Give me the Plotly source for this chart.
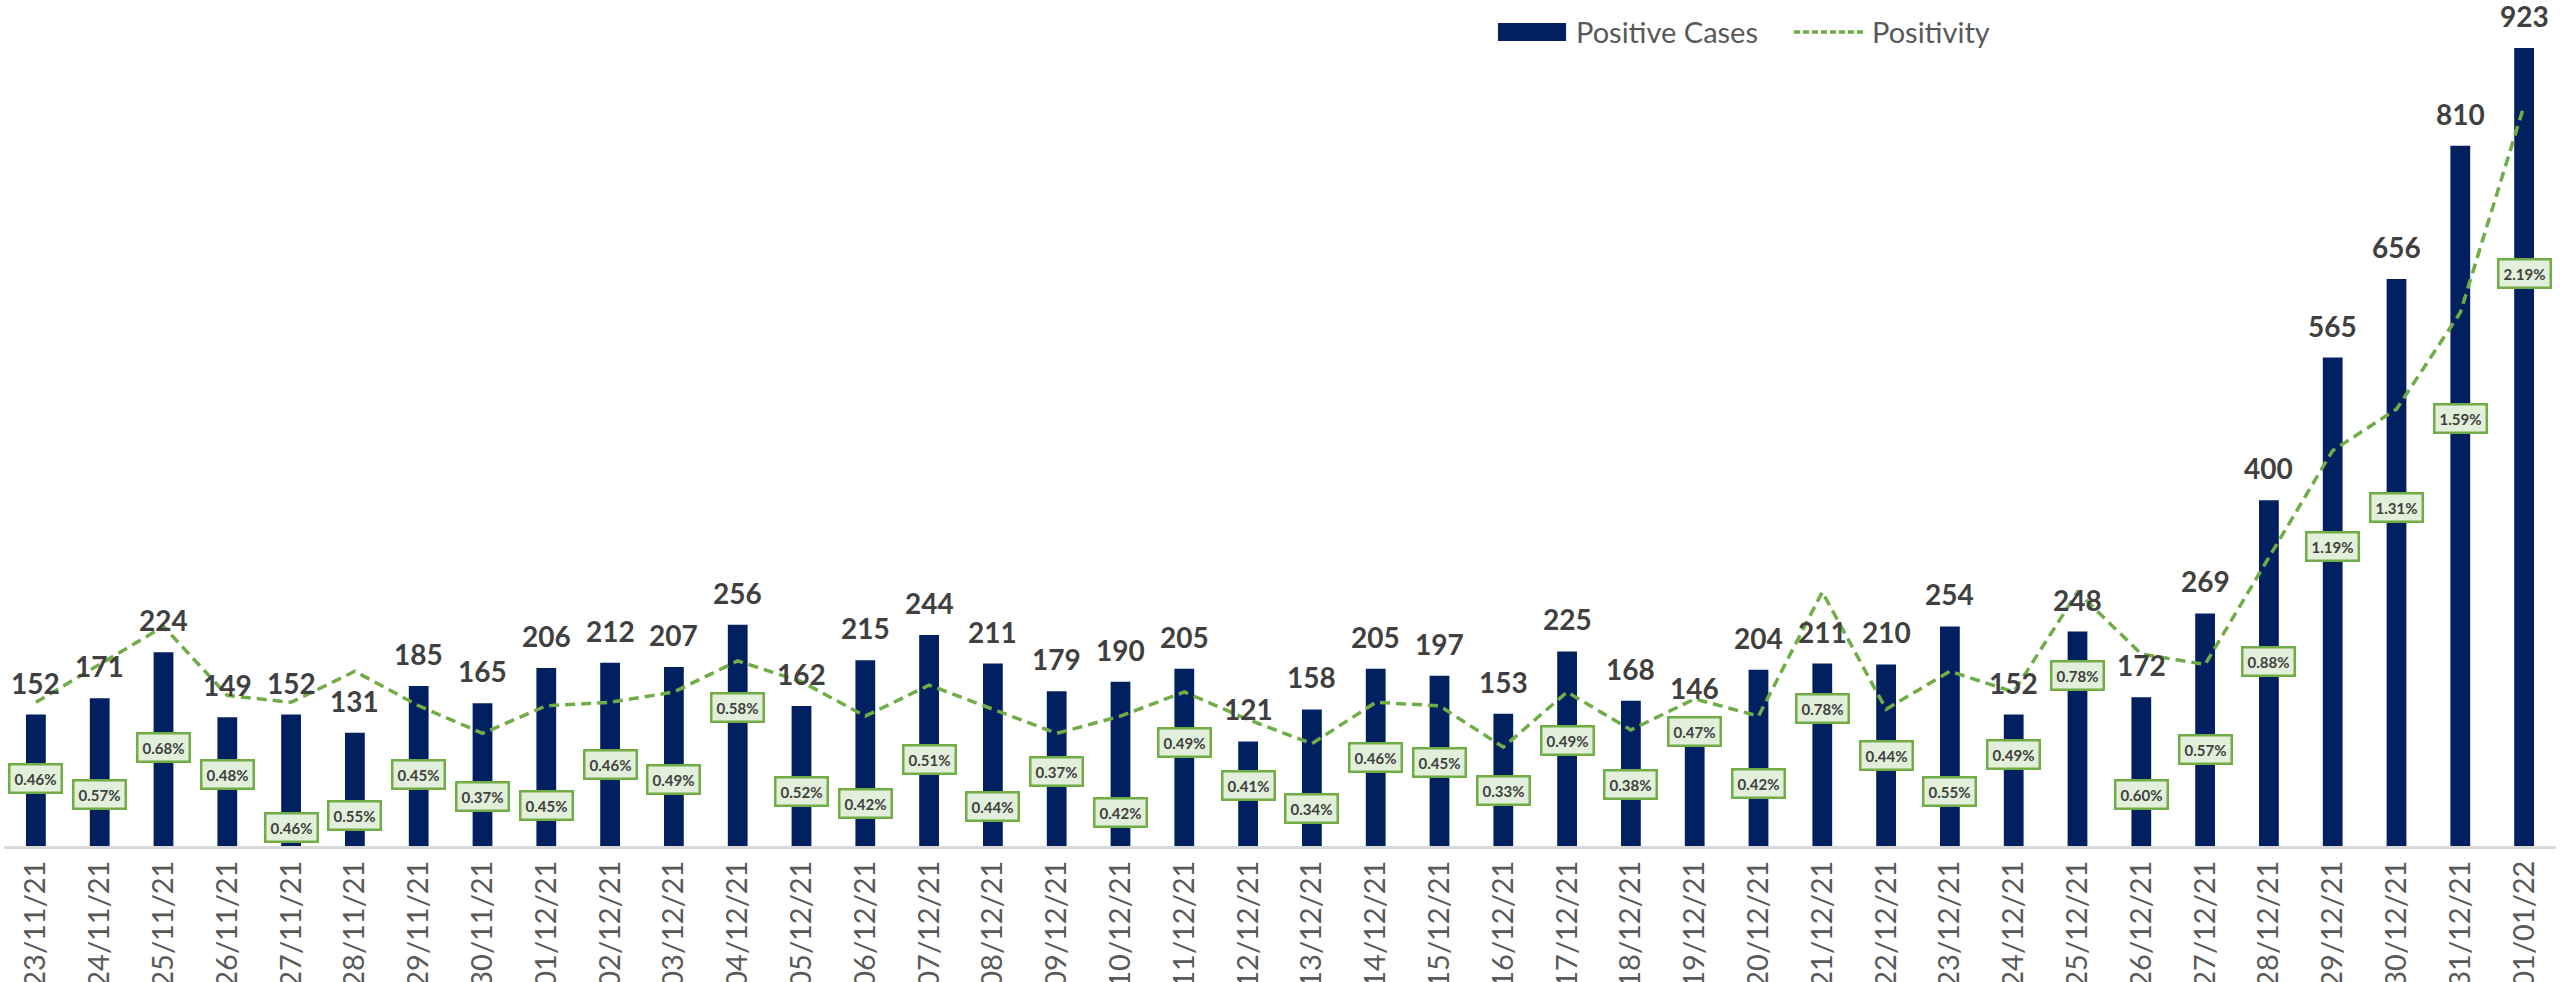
import plotly.graph_objects as go

# ---------------- data ----------------
dates = ["23/11/21", "24/11/21", "25/11/21", "26/11/21", "27/11/21", "28/11/21",
         "29/11/21", "30/11/21", "01/12/21", "02/12/21", "03/12/21", "04/12/21",
         "05/12/21", "06/12/21", "07/12/21", "08/12/21", "09/12/21", "10/12/21",
         "11/12/21", "12/12/21", "13/12/21", "14/12/21", "15/12/21", "16/12/21",
         "17/12/21", "18/12/21", "19/12/21", "20/12/21", "21/12/21", "22/12/21",
         "23/12/21", "24/12/21", "25/12/21", "26/12/21", "27/12/21", "28/12/21",
         "29/12/21", "30/12/21", "31/12/21", "01/01/22"]

positive_cases = [152, 171, 224, 149, 152, 131, 185, 165, 206, 212, 207, 256,
                  162, 215, 244, 211, 179, 190, 205, 121, 158, 205, 197, 153,
                  225, 168, 146, 204, 211, 210, 254, 152, 248, 172, 269, 400,
                  565, 656, 810, 923]

positivity = [0.0046, 0.0057, 0.0068, 0.0048, 0.0046, 0.0055, 0.0045, 0.0037,
              0.0045, 0.0046, 0.0049, 0.0058, 0.0052, 0.0042, 0.0051, 0.0044,
              0.0037, 0.0042, 0.0049, 0.0041, 0.0034, 0.0046, 0.0045, 0.0033,
              0.0049, 0.0038, 0.0047, 0.0042, 0.0078, 0.0044, 0.0055, 0.0049,
              0.0078, 0.0060, 0.0057, 0.0088, 0.0119, 0.0131, 0.0159, 0.0219]

series_names = ["Positive Cases", "Positivity"]

# label placement (pixels below the line point) - style, not data
label_drop_px = [76, 130, 121, 79, 125, 144, 69, 63, 100, 62, 88, 47, 110, 87,
                 74, 97, 38, 96, 51, 66, 65, 55, 57, 43, 49, 55, 33, 67, 117, 46,
                 120, 63, 84, 140, 85, 104, 96, 98, 106, 168]

# ---------------- styles ----------------
NAVY = "#002060"
GREEN = "#70AD47"
LABEL_FILL = "#E2EFDA"
DARK = "#404040"
GREY = "#595959"
FONT = "Lato, Open Sans, sans-serif"

fig = go.Figure()

fig.add_trace(go.Bar(
    x=dates, y=positive_cases, name=series_names[0],
    marker=dict(color=NAVY, line=dict(width=0)),
    width=0.31, yaxis="y", showlegend=False,
))

fig.add_trace(go.Scatter(
    x=dates, y=positivity, name=series_names[1], mode="lines",
    line=dict(color=GREEN, width=3.5, dash="10px,6px"),
    yaxis="y2", showlegend=False,
))

annotations = []
for d, v in zip(dates, positive_cases):
    annotations.append(dict(
        x=d, y=v, xref="x", yref="y", text=str(v), showarrow=False,
        yanchor="bottom", yshift=13,
        font=dict(family=FONT, size=28, color=DARK, weight="bold"),
    ))
for d, p, drop in zip(dates, positivity, label_drop_px):
    annotations.append(dict(
        x=d, y=p, xref="x", yref="y2", text=f"{p:.2%}", showarrow=False,
        yanchor="middle", yshift=-drop,
        bgcolor=LABEL_FILL, bordercolor=GREEN, borderwidth=2.5, borderpad=4,
        font=dict(family=FONT, size=15, color=DARK, weight="bold"),
    ))

# ---- legend (drawn as swatches + text, top centre-right) ----
legend_font = dict(family=FONT, size=29, color=GREY)
annotations.append(dict(
    x=0.6152, y=0.9628, xref="paper", yref="paper", text=series_names[0],
    showarrow=False, xanchor="left", yanchor="middle", font=legend_font,
))
annotations.append(dict(
    x=0.7312, y=0.9628, xref="paper", yref="paper", text=series_names[1],
    showarrow=False, xanchor="left", yanchor="middle", font=legend_font,
))
shapes = [
    dict(type="rect", xref="paper", yref="paper",
         x0=0.5854, x1=0.6121, y0=0.9515, y1=0.9728,
         fillcolor=NAVY, line=dict(width=0)),
    dict(type="line", xref="paper", yref="paper",
         x0=0.7014, x1=0.7288, y0=0.9622, y1=0.9622,
         line=dict(color=GREEN, width=3.5, dash="6px,3px")),
]

fig.update_layout(
    width=2560, height=982,
    margin=dict(l=4, r=4, t=0, b=136, autoexpand=False),
    plot_bgcolor="white", paper_bgcolor="white",
    font=dict(family=FONT, color=GREY),
    showlegend=False,
    xaxis=dict(
        type="category", tickangle=-90, showgrid=False, zeroline=False,
        showline=True, linecolor="#D9D9D9", linewidth=3,
        ticks="", ticklabelstandoff=0, automargin=False,
        tickfont=dict(family=FONT, size=29, color=GREY),
    ),
    yaxis=dict(
        range=[0, 978.6], showgrid=False, zeroline=False,
        showticklabels=False, showline=False, automargin=False,
    ),
    yaxis2=dict(
        range=[0.000435, 0.02496], overlaying="y", side="right",
        showgrid=False, zeroline=False, showticklabels=False,
        showline=False, automargin=False,
    ),
    annotations=annotations,
    shapes=shapes,
)

fig.write_html(
    "out.html",
    config={"displayModeBar": False},
    post_script="document.body.style.margin='0';document.body.style.overflow='hidden';",
)
